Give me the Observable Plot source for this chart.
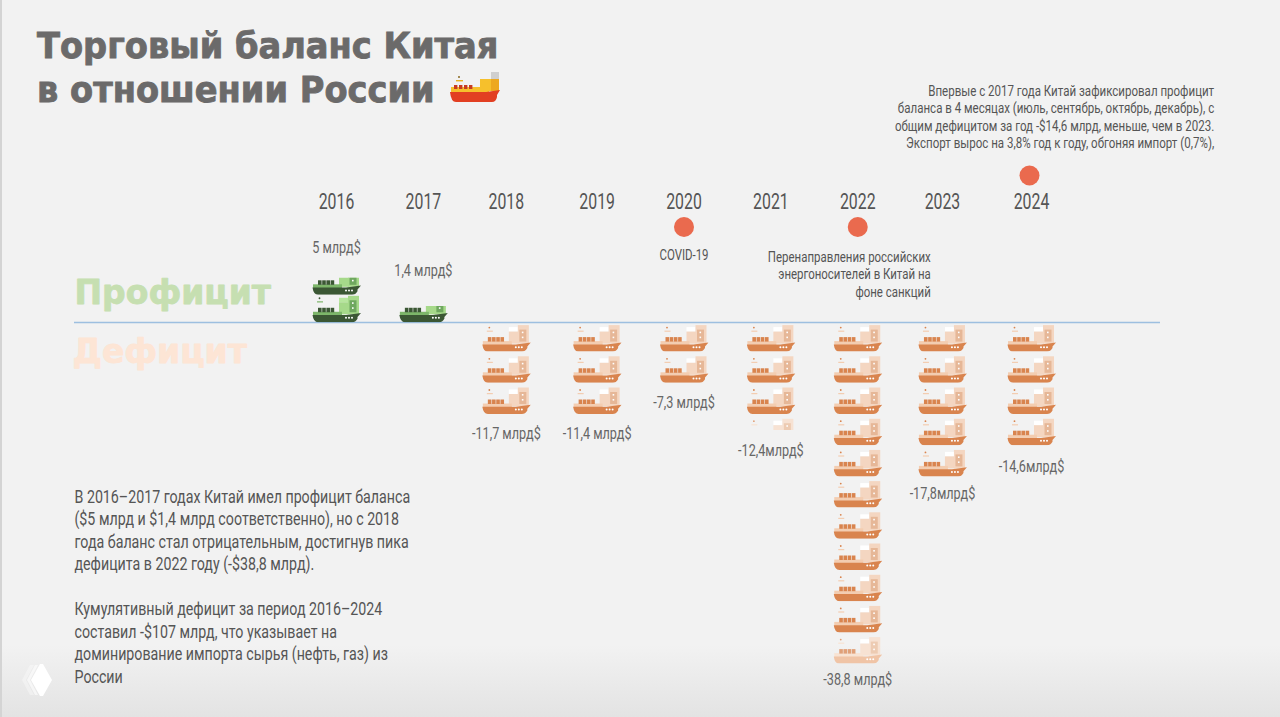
<!DOCTYPE html>
<html lang="ru">
<head>
<meta charset="utf-8">
<title>Торговый баланс Китая в отношении России</title>
<script src="https://cdn.jsdelivr.net/npm/d3@7"></script>
<script src="https://cdn.jsdelivr.net/npm/@observablehq/plot@0.6"></script>
<style>
  html, body { margin: 0; width: 1280px; height: 717px; overflow: hidden; }
  body { background: linear-gradient(#f2f2f2 90%, #e3e3e3 100%); position: relative; box-shadow: inset 2px 0 0 #d4d4d4; }
  #head { position: relative; height: 165px; }
  h1 { position: absolute; left: 37px; top: 24px; margin: 0; font: 700 36px/44px "DejaVu Sans", sans-serif; color: #6b6a6a; white-space: pre; transform: scaleX(.935); transform-origin: left top; -webkit-text-stroke: .9px #6b6a6a; }
  #emoji { position: absolute; left: 450px; top: 71px; }
  #note { position: absolute; right: 66px; top: 83px; margin: 0; text-align: right; white-space: pre; font: 14.6px/17.4px "Roboto", sans-serif; color: #555; transform: scaleX(.79); transform-origin: right top; }
  #logo { position: absolute; left: 19px; top: 662px; }
  #chart { display: block; }
  #chart svg { display: block; overflow: visible; background: transparent; }
</style>
</head>
<body>
<div id="head">
  <h1>Торговый баланс Китая
в отношении России</h1>
  <svg id="emoji" width="50" height="32" viewBox="0 0 50 32" aria-hidden="true">
    <circle cx="9" cy="6" r="1" fill="#8a6a20"/><rect x="6" y="9" width="7" height="1.4" fill="#e8b020"/>
    <rect x="30" y="8" width="11" height="12" fill="#f6c02c"/><rect x="41" y="1" width="8" height="19" fill="#cfcfcf"/><rect x="41" y="8" width="8" height="12" fill="#eda81f"/>
    <rect x="1" y="16" width="38" height="6" fill="#f6c02c"/>
    <rect x="4" y="14" width="3.4" height="4" fill="#c73b22"/><rect x="9" y="14" width="3.4" height="4" fill="#c73b22"/><rect x="14" y="14" width="3.4" height="4" fill="#c73b22"/><rect x="19" y="14" width="3.4" height="4" fill="#c73b22"/>
    <path d="M0 21H36L50 19L47 24V26Q46 31 42 31H6Q1 31 0 21Z" fill="#e23f22"/>
  </svg>
  <p id="note">Впервые с 2017 года Китай зафиксировал профицит
баланса в 4 месяцах (июль, сентябрь, октябрь, декабрь), с
общим дефицитом за год -$14,6 млрд, меньше, чем в 2023.
Экспорт вырос на 3,8% год к году, обгоняя импорт (0,7%),</p>
</div>
<div id="chart"></div>
<svg id="logo" width="36" height="36" viewBox="0 0 36 36" aria-hidden="true">
  <path d="M3 18L11 3H15L7 18L15 33H11Z" fill="#fff" opacity=".35"/>
  <path d="M8 18L16 3H19L11 18L19 33H16Z" fill="#fff" opacity=".6"/>
  <path d="M12 18L21 2H24L33 18L24 34H21Z" fill="#fff"/>
</svg>
<script>
// ---- data ----
const years = [2016, 2017, 2018, 2019, 2020, 2021, 2022, 2023, 2024];
const balances = [5, 1.4, -11.7, -11.4, -7.3, -12.4, -38.8, -17.8, -14.6];
const balanceLabels = ["5 млрд$", "1,4 млрд$", "-11,7 млрд$", "-11,4 млрд$", "-7,3 млрд$", "-12,4млрд$", "-38,8 млрд$", "-17,8млрд$", "-14,6млрд$"];
const billionsPerShip = 3.5;
const eventYears = [2020, 2022];
const noteYear = [2024];
const eventNotes = ["COVID-19", "Перенаправления российских\nэнергоносителей в Китай на\nфоне санкций"];
const sideLabels = ["Профицит", "Дефицит"];
const summaryText = `В 2016–2017 годах Китай имел профицит баланса
($5 млрд и $1,4 млрд соответственно), но с 2018
года баланс стал отрицательным, достигнув пика
дефицита в 2022 году (-$38,8 млрд).

Кумулятивный дефицит за период 2016–2024
составил -$107 млрд, что указывает на
доминирование импорта сырья (нефть, газ) из
России`;
// ---- layout of the scales ----
const W = 1280, H = 552, top0 = 44, zeroPx = 157, pxPerBn = 31.2 / billionsPerShip;
const yDomain = [-(H - zeroPx) / pxPerBn, (zeroPx - top0) / pxPerBn];
const FONT = '"Roboto", sans-serif';
const WIDE = '"DejaVu Sans", sans-serif';
const INK = "#555";
const NARROW = 0.79;
// the infographic's columns are hand-placed, slightly off an even spacing
const columnShift = new Map([[2018, -0.045], [2023, -0.025]]);
const labelNudgePx = new Map([[2016, -3], [2017, -8], [2021, 5], [2022, -4], [2023, -3], [2024, 2]]);

const green = {hull: "#3b5734", deck: "#3b5734", stripe: "#7db66a", a: "#6fa85f", b: "#a6d98a", top: "#b7e69e", mast: "#3b5734"};
const orange = {hull: "#d9844e", deck: "#d9844e", stripe: "#f3cdb1", a: "#e6b797", b: "#f4d6c1", top: "#ffffff", mast: "#d9844e"};
const faded = {hull: "#f0c4a6", deck: "#e0a078", stripe: "#f8e3d3", a: "#edcbb2", b: "#f7e2d3", top: "#ffffff", mast: "#e0a078"};

function shipSrc(p, keep = 1, from = "top") {
  const h = 27 * keep, y = from === "top" ? 0 : 27 - h;
  const boxes = [6, 10.2, 14.4, 18.6].map(x => `<rect x="${x}" y="12.5" width="3.6" height="4.5" fill="${p.deck}"/>`).join("");
  const holes = [34, 37, 40].map(x => `<circle cx="${x}" cy="22.6" r="1" fill="#fff"/>`).join("");
  const svg = `<svg xmlns="http://www.w3.org/2000/svg" viewBox="0 0 49 27" width="196" height="108">
    <defs><clipPath id="c"><rect x="0" y="${y}" width="49" height="${h}"/></clipPath></defs>
    <g clip-path="url(#c)">
      <circle cx="7.5" cy="3" r="0.9" fill="${p.mast}"/><rect x="5" y="6" width="6" height="1.2" fill="${p.stripe}"/>
      <rect x="27" y="2.5" width="9" height="4.5" fill="${p.top}"/>
      <rect x="27" y="7" width="10" height="12" fill="${p.b}"/>
      <rect x="36" y="0.5" width="11" height="18.5" fill="${p.b}"/>
      <rect x="37.5" y="5" width="7" height="12" fill="${p.a}"/>
      <rect x="40" y="7" width="1.6" height="1.6" fill="#fff"/><rect x="40" y="12" width="1.6" height="1.6" fill="#fff"/>
      <rect x="1" y="16.5" width="29" height="4" fill="${p.stripe}"/>
      ${boxes}
      <path d="M0.5 19.8H34L49 17.8L45.5 21.8V23.5Q43.5 27 40 27H6Q1.5 27 0.5 19.8Z" fill="${p.hull}"/>
      ${holes}
    </g></svg>`;
  return "data:image/svg+xml," + encodeURIComponent(svg);
}

// one row of the stack per whole ship, plus a cut ship when the remainder is large enough to show
const ships = [], labels = [];
years.forEach((year, k) => {
  const v = balances[k], up = v > 0, units = Math.abs(v) / billionsPerShip;
  const whole = Math.floor(units), rest = units - whole;
  const pitch = up ? 0.88 : 1, sign = up ? 1 : -1;
  const push = (row, keep, pal) => ships.push({year, y: sign * (row + 0.5) * billionsPerShip * pitch, keep, pal, up});
  for (let row = 0; row < whole; row++) {
    push(row, 1, up ? green : (year === 2022 && row === whole - 1 ? faded : orange));
  }
  let reach = whole;
  if (rest >= 0.39) {
    const keep = up ? rest + 0.2 : rest * 0.8;
    push(whole, keep, up ? green : faded);
    reach += keep * 0.87;
  }
  labels.push({year, text: balanceLabels[k], up,
    y: sign * reach * billionsPerShip * pitch - (labelNudgePx.get(year) || 0) / pxPerBn});
});
const noted = eventNotes.map((note, i) => ({year: eventYears[i], note}));

const chart = Plot.plot({
  width: W, height: H,
  marginTop: top0, marginLeft: 74, marginRight: 120, marginBottom: 0,
  style: {background: "transparent", fontFamily: FONT},
  x: {domain: d3.extent(years), range: [336, 1031], transform: y => y + (columnShift.get(y) || 0)},
  y: {domain: yDomain, axis: null},
  marks: [
    Plot.axisX({anchor: "top", ticks: years.map(y => y + (columnShift.get(y) || 0)), tickFormat: d => String(Math.round(d)), tickSize: 0, tickPadding: 1, fontSize: 22, fill: INK, label: null}),
    Plot.ruleY([0], {stroke: "#9dbfe0", strokeWidth: 1.4}),
    Plot.text([sideLabels[0]], {className: "wide", frameAnchor: "left", y: 3.3, text: d => d, fontSize: 33, fontWeight: 700, fontFamily: WIDE, fill: "#c6dfb1", stroke: "#c6dfb1", strokeWidth: 0.8, textAnchor: "start"}),
    Plot.text([sideLabels[1]], {className: "wide", frameAnchor: "left", y: -3.4, dx: -2, text: d => d, fontSize: 33, fontWeight: 700, fontFamily: WIDE, fill: "#fde5d5", stroke: "#fde5d5", strokeWidth: 0.8, textAnchor: "start"}),
    Plot.image(ships, {x: "year", y: "y", width: 49, height: 27, src: d => shipSrc(d.pal, d.keep, d.up ? "bottom" : "top")}),
    Plot.text(labels.filter(d => !d.up), {x: "year", y: "y", text: "text", dy: 18, fontSize: 16, fill: "#666"}),
    Plot.text(labels.filter(d => d.up), {x: "year", y: "y", text: "text", dy: -29, fontSize: 16, fill: "#666"}),
    Plot.dot(eventYears, {x: d => d, frameAnchor: "top", dy: 17.5, r: 10, fill: "#ea6a4e"}),
    Plot.dot(noteYear, {x: d => d, frameAnchor: "top", dy: -34, dx: -2, r: 10, fill: "#ea6a4e"}),
    Plot.text(noted.slice(0, 1), {x: "year", frameAnchor: "top", dy: 40, text: "note", fontSize: 14.5, fill: INK}),
    Plot.text(noted.slice(1), {x: "year", frameAnchor: "top", dy: 40, dx: 73, text: "note", textAnchor: "end", lineHeight: 1.2, fontSize: 14.5, fill: INK}),
    Plot.text([summaryText], {frameAnchor: "bottom-left", dy: -35, text: d => d, textAnchor: "start", lineHeight: 1.25, fontSize: 18, fill: INK})
  ]
});
document.getElementById("chart").append(chart);
// the reference's type is a condensed face: squeeze every narrow label about its own anchor
chart.querySelectorAll("text").forEach(t => {
  if (t.closest(".wide")) return;
  const isYear = t.closest('[aria-label="x-axis tick label"]');
  const tr = t.getAttribute("transform") || "";
  t.setAttribute("transform", `${tr} scale(${isYear ? 0.72 : NARROW},1)`);
});
</script>
</body>
</html>
